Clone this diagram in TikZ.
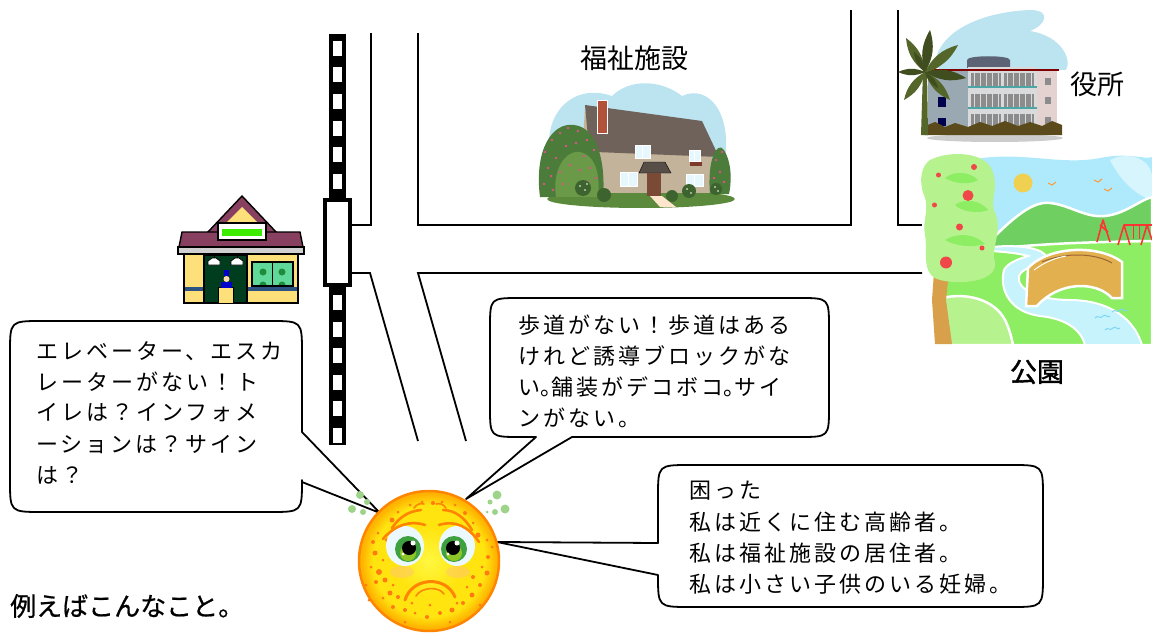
\documentclass[tikz,border=0pt]{standalone}
\usepackage{fontspec}
\newfontfamily\jp{Noto Sans CJK JP}
\newfontfamily\jpsp[LetterSpace=13.6]{Noto Sans CJK JP}
\newfontfamily\jphalf[LetterSpace=13.6,RawFeature=+halt]{Noto Sans CJK JP}
\newfontfamily\jpbold[FakeBold=1.5]{Noto Sans CJK JP}
\newfontfamily\jpmid[FakeBold=0.7]{Noto Sans CJK JP}

\definecolor{storeyellow}{HTML}{FDE07A}
\definecolor{roofmaroon}{HTML}{874060}
\definecolor{doorgreen}{HTML}{003C1E}
\definecolor{wingreen}{HTML}{5FD89A}
\definecolor{windot}{HTML}{1E8C3C}
\definecolor{stripeblue}{HTML}{2C5282}
\definecolor{signgreen}{HTML}{3CEB00}
\definecolor{skyblue}{HTML}{BCE4F0}
\definecolor{thatch}{HTML}{6E625A}
\definecolor{stonewall}{HTML}{C4B39B}
\definecolor{brick}{HTML}{B2523A}
\definecolor{doorbrown}{HTML}{7B4A36}
\definecolor{shrub}{HTML}{4C7C3A}
\definecolor{shrublight}{HTML}{6A9A48}
\definecolor{flowerpink}{HTML}{E0508A}
\definecolor{lawn}{HTML}{5C8A3C}
\definecolor{wingblue}{HTML}{9AA8B2}
\definecolor{facade}{HTML}{D8DADC}
\definecolor{wingpink}{HTML}{E3D2D0}
\definecolor{tank}{HTML}{5C6374}
\definecolor{hedge}{HTML}{5A4A1C}
\definecolor{palm}{HTML}{55662A}
\definecolor{palmdark}{HTML}{3F4D1F}
\definecolor{parksky}{HTML}{AEEAFC}
\definecolor{hillgreen}{HTML}{6FCF60}
\definecolor{grassgreen}{HTML}{8DED63}
\definecolor{paleleaf}{HTML}{B6F28E}
\definecolor{riverblue}{HTML}{C6F3FC}
\definecolor{bridgetan}{HTML}{E2B04E}
\definecolor{trunkbrown}{HTML}{D8A04A}
\definecolor{appleRed}{HTML}{F04848}
\definecolor{sunyellow}{HTML}{F0D050}
\definecolor{faceedge}{HTML}{FF8400}
\definecolor{freckle}{HTML}{FF7A10}
\definecolor{irisgreen}{HTML}{3FA040}
\definecolor{sweat}{HTML}{9ED48A}
\definecolor{facecore}{HTML}{FFF740}
\definecolor{facemid}{HTML}{FFE410}
\definecolor{facerim}{HTML}{FFB300}

\pgfdeclareradialshading{worriedface}{\pgfpoint{0bp}{0bp}}{%
  color(0bp)=(facecore); color(12bp)=(facemid); color(20bp)=(facemid);
  color(24bp)=(facerim); color(25bp)=(facerim); color(50bp)=(facerim)}

\tikzset{
  road/.style={line width=1.8pt, line join=miter},
  bubble/.style={draw=black, line width=1.8pt, fill=white, line join=round},
  bubbletext/.style={anchor=west, inner sep=0pt, font=\jpsp\fontsize{22}{26}\selectfont},
  placename/.style={inner sep=0pt, font=\jp\fontsize{27}{30}\selectfont},
  outline/.style={draw=black, line width=1.4pt},
}

\begin{document}
\begin{tikzpicture}[x=1pt,y=-1pt]
\useasboundingbox (0,0) rectangle (1152,634);

% ---------- streets ----------
\draw[road] (349,225) -- (371,225) -- (371,33);
\draw[road] (418,33) -- (418,225) -- (851,225) -- (851,10);
\draw[road] (898,10) -- (898,225) -- (922,225);
\draw[road] (349,273) -- (370,273) -- (418,441);
\draw[road] (466,441) -- (418,273) -- (922,273);

% ---------- railway with station ----------
\fill (329,34) rectangle (346,445);
\foreach \y in {41,67.5,94,120.5,147,173.5,295,321.5,348,374.5,401,427.5}
  \fill[white] (333,\y) rectangle (342,\y+15);
\draw[line width=4pt, fill=white] (324.7,199.7) rectangle (349.7,284.7);

% ---------- convenience store ----------
\filldraw[fill=roofmaroon, outline] (242,196) -- (207,233) -- (277,233) -- cycle;
\fill[storeyellow] (242,207) -- (217,232) -- (267,232) -- cycle;
\filldraw[fill=roofmaroon, outline] (182,232) -- (300,232) -- (303,247) -- (179,247) -- cycle;
\filldraw[fill=black!18, outline] (178,247) rectangle (304,254);
\filldraw[fill=storeyellow, outline] (184,254) rectangle (298,303);
\fill[stripeblue] (185,287) rectangle (297,291);
\filldraw[fill=doorgreen, outline] (204,255) rectangle (247,303);
\filldraw[fill=storeyellow, draw=black, line width=0.8pt] (218,287) rectangle (233,303);
\fill[blue!80!black] (224,270) rectangle (229,276);
\fill[blue!80!black] (221,282) rectangle (232,288);
\fill[orange!30] (226.5,279) circle (3);
\foreach \x in {214,237}{
  \draw[line width=0.8pt] (\x,254) -- (\x,258);
  \filldraw[fill=white, line width=0.8pt] (\x-6,265) -- (\x-6,261) -- (\x-2,258) -- (\x+2,258) -- (\x+6,261) -- (\x+6,265) -- cycle;
}
\begin{scope}
  \clip (252,262) rectangle (293,286);
  \fill[wingreen] (252,262) rectangle (293,286);
  \foreach \x/\y in {263/272,282/272,263/285,282/285}
    \fill[windot] (\x,\y) circle (3.5);
\end{scope}
\draw[outline] (252,262) rectangle (293,286);
\draw[outline] (272.5,262) -- (272.5,286);
\filldraw[fill=white, outline] (218,223) rectangle (266,240);
\fill[signgreen] (222,229) rectangle (262,236);

% ---------- welfare facility (cottage) ----------
\fill[skyblue] (552,168) .. controls (538,115) and (572,82) .. (612,96)
  .. controls (630,78) and (662,80) .. (682,96)
  .. controls (708,84) and (734,112) .. (724,168) -- cycle;
\fill[lawn] (641,199) ellipse (94 and 9);
\fill[stonewall] (592,146) rectangle (712,193);
\fill[stonewall] (585,108) -- (594,152) -- (582,156) -- cycle;
\fill[thatch] (585,105) -- (702,121) -- (719,157) -- (596,152) -- (588,138) -- cycle;
\filldraw[fill=brick, draw=white, line width=1pt] (597,101) rectangle (607,133);
\filldraw[fill=thatch!80!black] (639,173) -- (644,162) -- (665,162) -- (671,173) -- cycle;
\fill[doorbrown] (647,173) rectangle (661,196);
\foreach \a/\b/\c/\d in {635/145/650/158, 689/150/700/161, 620/172/637/186, 686/174/703/186}{
  \filldraw[fill=cyan!10, draw=white, line width=1pt] (\a,\b) rectangle (\c,\d);
  \draw[white, line width=0.6pt] ({(\a+\c)/2},\b) -- ({(\a+\c)/2},\d);
}
\fill[brick!70!black] (690,162) rectangle (702,166);
\fill[shrub] (540,197) .. controls (534,150) and (552,122) .. (574,125)
  .. controls (596,127) and (606,160) .. (603,197) -- cycle;
\fill[shrublight] (556,197) .. controls (552,170) and (565,150) .. (580,152)
  .. controls (598,156) and (600,180) .. (598,197) -- cycle;
\fill[shrub] (710,194) .. controls (707,160) and (717,140) .. (724,150)
  .. controls (733,165) and (731,185) .. (729,194) -- cycle;
\foreach \x/\y in {545/152,552/140,560/133,568/128,578/131,587/140,594/150,548/168,556/158,
  566/146,576/143,584/156,590/168,596/178,544/184,551/176,560/172,570/165,580/170,
  588/182,553/190,563/184,716/160,720/172,724/182,714/178,722/152}
  \fill[flowerpink] (\x,\y) circle (1.3);
\foreach \x/\y/\r in {583/188/8,689/191/7,716/189/6,604/195/7,672/196/6}
  \fill[shrub!80!black] (\x,\y) circle (\r);
\foreach \x/\y in {580/186,585/190,587/184,687/189,691/193,715/187,718/191}
  \fill[white] (\x,\y) circle (0.9);
\fill[orange!20!white] (650,196) -- (662,196) -- (676,207) -- (660,207) -- cycle;

% ---------- city office ----------
\fill[skyblue] (935,64) .. controls (938,32) and (980,12) .. (1030,10)
  .. controls (1052,10) and (1046,25) .. (1030,31)
  .. controls (1062,36) and (1072,60) .. (1066,70) -- (940,70) -- cycle;
\fill[black!20] (995,138) ellipse (68 and 4);
\fill[wingblue] (928,70) rectangle (968,130);
\fill[tank] (967,68) -- (967,60) .. controls (967,55) and (1010,55) .. (1010,60) -- (1010,68) -- cycle;
\fill[facade] (968,67) rectangle (1037,130);
\fill[wingpink] (1037,70) rectangle (1057,130);
\draw[red!50!black, line width=1.5pt] (926,70) -- (1059,70);
\foreach \yy in {73,94,114}{
  \fill[black!45] (971,\yy) rectangle (1001,\yy+13);
  \fill[black!45] (1004,\yy) rectangle (1034,\yy+13);
  \foreach \xx in {974,980,986,992,998,1007,1013,1019,1025,1031}
    \draw[facade, line width=0.8pt] (\xx,\yy) -- (\xx,\yy+13);
}
\draw[teal!70, line width=1.2pt] (968,87) -- (1037,87);
\draw[teal!70, line width=1.2pt] (968,108) -- (1037,108);
\fill[blue!30!black] (938,97) rectangle (946,107);
\fill[blue!30!black] (938,118) rectangle (946,126);
\foreach \yy in {78,97,117}
  \fill[black!45] (1045,\yy) rectangle (1051,\yy+7);
\fill[hedge] (925,135) -- (925,126) -- (935,122) -- (945,127) -- (955,123) -- (968,127)
  -- (980,122) -- (992,126) -- (1005,121) -- (1018,126) -- (1030,122) -- (1042,126)
  -- (1052,121) -- (1062,125) -- (1062,135) -- cycle;
\fill[palm] (921,135) -- (923,70) -- (927,70) -- (928,135) -- cycle;
\foreach \tx/\ty/\c in {906/38/palm, 930/30/palmdark, 958/45/palm, 966/78/palmdark,
  898/72/palmdark, 904/100/palm, 950/100/palm, 914/52/palmdark, 945/60/palm, 938/88/palmdark}
  \fill[\c] (925,72) to[bend left=24] (\tx,\ty) to[bend left=24] (925,72);

% ---------- park ----------
\fill[parksky] (970,160) .. controls (1020,150) and (1060,166) .. (1100,158)
  .. controls (1130,152) and (1145,160) .. (1152,157) -- (1152,245) -- (970,245) -- cycle;
\fill[white!50!parksky] (1110,160) .. controls (1130,150) and (1150,160) .. (1152,175)
  -- (1152,200) .. controls (1135,195) and (1120,180) .. (1110,160) -- cycle;
\filldraw[fill=hillgreen, draw=white, line width=2.5pt] (984,247) .. controls (1005,226) and (1030,200) .. (1050,203)
  .. controls (1070,205) and (1085,218) .. (1105,216)
  .. controls (1125,214) and (1140,200) .. (1152,197) -- (1152,252) -- (984,252) -- cycle;
\filldraw[fill=grassgreen, draw=white, line width=2.5pt] (935,252) -- (985,250) .. controls (1040,243) and (1100,242) .. (1152,241)
  -- (1152,345) -- (935,345) -- cycle;
\filldraw[fill=riverblue, draw=white, line width=2pt] (992,247) .. controls (1020,244) and (1045,249) .. (1046,257)
  .. controls (1046,265) and (1022,266) .. (1019,276)
  .. controls (1016,290) and (1040,300) .. (1070,300)
  .. controls (1100,300) and (1132,312) .. (1142,345) -- (1085,345)
  .. controls (1080,326) and (1060,318) .. (1040,316)
  .. controls (1010,312) and (999,290) .. (1004,270)
  .. controls (1008,262) and (1022,258) .. (1028,256)
  .. controls (1018,253) and (1004,252) .. (992,251) -- cycle;
\foreach \x/\y in {1095/318,1112/312,1105/330}
  \draw[cyan!50, line width=1pt] (\x,\y) .. controls (\x+3,\y-4) and (\x+5,\y+2) .. (\x+8,\y-2)
    .. controls (\x+11,\y-5) and (\x+12,\y+1) .. (\x+15,\y-2);
\filldraw[fill=paleleaf, draw=white, line width=2.5pt] (935,300) .. controls (965,290) and (995,300) .. (1005,320)
  .. controls (1010,330) and (1012,340) .. (1013,345) -- (935,345) -- cycle;
\filldraw[fill=bridgetan, draw=white, line width=2.5pt] (1026,306) -- (1028,268)
  .. controls (1050,245) and (1100,245) .. (1122,262) -- (1122,298) -- (1112,298)
  .. controls (1095,280) and (1058,282) .. (1037,306) -- cycle;
\draw[brown!80!black, line width=1pt] (1042,262) .. controls (1065,252) and (1095,253) .. (1112,263);
\draw[white, line width=1pt] (1034,270) .. controls (1045,262) and (1055,258) .. (1066,256);
\begin{scope}[red!80, line width=1.6pt, line join=round]
  \draw (1097,242) -- (1103,220) -- (1110,242);
  \draw (1100,225) -- (1108,232);
  \draw (1118,245) -- (1124,225) -- (1130,245);
  \draw (1141,245) -- (1147,225) -- (1152,240);
  \draw (1124,225) -- (1152,225);
  \draw[line width=0.8pt] (1133,225) -- (1133,239) (1139,225) -- (1139,239);
\end{scope}
\fill[sunyellow] (1023,183) circle (9.5);
\foreach \x/\y in {1052/183,1098/180,1108/189}
  \draw[orange!80, line width=1pt] (\x-4,\y) -- (\x,\y+2) -- (\x+4,\y-1);
\fill[trunkbrown] (934,272) -- (949,272) -- (946,300) -- (952,344) -- (935,344) -- (932,300) -- cycle;
\fill[paleleaf] (930,160) .. controls (950,150) and (985,152) .. (992,170)
  .. controls (1000,190) and (988,200) .. (996,215)
  .. controls (1002,235) and (990,250) .. (995,262)
  .. controls (998,282) and (960,285) .. (940,280)
  .. controls (920,275) and (928,250) .. (925,235)
  .. controls (922,220) and (930,210) .. (924,195)
  .. controls (918,180) and (922,165) .. (930,160) -- cycle;
\fill[grassgreen] (945,178) .. controls (955,170) and (970,172) .. (978,180)
  .. controls (970,185) and (955,184) .. (945,178) -- cycle;
\fill[grassgreen] (955,205) .. controls (965,198) and (980,200) .. (988,210)
  .. controls (978,214) and (962,212) .. (955,205) -- cycle;
\fill[grassgreen] (945,240) .. controls (958,232) and (975,234) .. (985,244)
  .. controls (972,248) and (955,246) .. (945,240) -- cycle;
\foreach \x/\y/\r in {938.5/175/2.5,974/167/3,968/195.5/5.5,934.5/205/2.5,959.5/227/3.5,946/262.5/6,982/248/2.5}
  \fill[appleRed] (\x,\y) circle (\r);

% ---------- speech bubbles ----------
\draw[bubble] (380,513) -- (302,482) -- (302,480) .. controls (302,512) .. (270,512)
  -- (42,512) .. controls (10,512) .. (10,480) -- (10,353) .. controls (10,321) .. (42,321)
  -- (270,321) .. controls (302,321) .. (302,353) -- (302,432) -- cycle;
\draw[bubble] (572,437) -- (466,499) -- (536,437) -- (520,437) .. controls (490,437) .. (490,407)
  -- (490,328) .. controls (490,298) .. (520,298) -- (799,298) .. controls (829,298) .. (829,328)
  -- (829,407) .. controls (829,437) .. (799,437) -- cycle;
\draw[bubble] (658,543) -- (497,542) -- (658,575) .. controls (658,607) .. (690,607)
  -- (1011,607) .. controls (1043,607) .. (1043,575) -- (1043,497) .. controls (1043,465) .. (1011,465)
  -- (690,465) .. controls (658,465) .. (658,497) -- cycle;

% ---------- worried face ----------
\shade[shading=worriedface] (429,561) circle (70);
\draw[faceedge, line width=2.5pt] (429,561) circle (70);
\foreach \x/\y/\r in {392/520/2.5,398/512/1.5,410/505/1.5,422/502/1.5,433/503/2,442/502/1.5,
  455/505/1.5,465/513/2,473/523/1.5,478/535/2.5,487/540/1.5,378/533/1.5,387/540/2,373/542/2,
  375/553/2.5,383/560/1.5,371/567/1.5,379/572/3,376/582/2,385/580/2.5,393/585/1.5,390/593/2.5,
  383/598/1.5,398/597/2,393/607/2,405/610/2,415/613/1.5,427/617/2,440/613/2,452/610/2.5,
  463/603/2,472/595/2.5,480/585/2,487/573/2.5,482/567/1.5,488/557/2,492/547/1.5,473/577/2,
  467/587/1.5,412/603/1.5,457/603/1.5,430/605/1.5,366/585/1.5,369/600/1.5,480/605/1.5,
  405/622/1.5,450/622/1.5}
  \fill[freckle] (\x,\y) circle (\r);
\fill[orange!50, opacity=0.45] (402,572) ellipse (12 and 6);
\fill[orange!50, opacity=0.45] (458,572) ellipse (12 and 6);
% eyes
\begin{scope}
  \clip (380,538) .. controls (395,525) and (410,520) .. (426,525) -- (430,575) -- (378,575) -- cycle;
  \fill[cyan!8] (405,546) ellipse (19 and 20);
  \fill[irisgreen] (408,549) circle (13);
  \fill[irisgreen!60!yellow] (408,553) circle (8);
  \fill[black] (409,548) circle (7);
  \fill[white] (413,543) circle (2.5);
  \fill[white] (403,554) circle (1.5);
\end{scope}
\begin{scope}
  \clip (438,525) .. controls (455,520) and (468,526) .. (480,541) -- (480,575) -- (434,575) -- cycle;
  \fill[cyan!8] (457,546) ellipse (18 and 20);
  \fill[irisgreen] (454,549) circle (13);
  \fill[irisgreen!60!yellow] (454,553) circle (8);
  \fill[black] (453,548) circle (7);
  \fill[white] (457,543) circle (2.5);
  \fill[white] (448,554) circle (1.5);
\end{scope}
\begin{scope}[faceedge, line width=2.6pt, line cap=round]
  \draw (383,539) .. controls (395,525) and (410,520) .. (425,525);
  \draw (439,525) .. controls (455,520) and (468,526) .. (479,542);
  \draw (392,528) .. controls (400,516) and (410,511) .. (421,510);
  \draw (443,510) .. controls (455,510) and (465,518) .. (472,530);
  \draw[line width=1.6pt] (414,508) .. controls (417,504) and (420,503) .. (424,504);
  \draw[line width=1.6pt] (436,504) .. controls (440,503) and (443,504) .. (446,508);
  \draw[line width=3pt] (405,600) .. controls (412,577) and (446,575) .. (455,597);
  \draw[line width=1.6pt] (416,596) .. controls (421,587) and (439,586) .. (444,594);
\end{scope}
\foreach \x/\y/\r in {360/495/4,367/502/3,352/509/4,363/512/3,497/495/4.5,490/502/2.5,495/512/3,505/509/4.5,487/512/1.5}
  \fill[sweat] (\x,\y) circle (\r);

% ---------- labels ----------
\node[placename] (welfare) at (634,58) {福祉施設};
\node[placename] (office) at (1097,84) {役所};
\node[placename, font=\jpbold\fontsize{27}{30}\selectfont] (park) at (1037,372) {公園};
\node[anchor=west, inner sep=0pt, font=\jpmid\fontsize{26}{30}\selectfont] (example) at (10,606) {例えばこんなこと。};

\node[bubbletext] (stationA) at (36,351) {エレベーター、エスカ};
\node[bubbletext] (stationB) at (36,382) {レーターがない！ト};
\node[bubbletext] (stationC) at (36,413) {イレは？インフォメ};
\node[bubbletext] (stationD) at (36,444) {ーションは？サイン};
\node[bubbletext] (stationE) at (36,475) {は？};

\node[bubbletext] (streetA) at (518,325) {歩道がない！歩道はある};
\node[bubbletext] (streetB) at (518,356) {けれど誘導ブロックがな};
\node[bubbletext] (streetC) at (518,387) {い{\jphalf\fontsize{22}{26}\selectfont 。}舗装がデコボコ{\jphalf\fontsize{22}{26}\selectfont 。}サイ};
\node[bubbletext] (streetD) at (518,418) {ンがない。};

\node[bubbletext] (selfA) at (689,491) {困った};
\node[bubbletext] (selfB) at (689,522) {私は近くに住む高齢者。};
\node[bubbletext] (selfC) at (689,553) {私は福祉施設の居住者。};
\node[bubbletext] (selfD) at (689,584) {私は小さい子供のいる妊婦。};
\end{tikzpicture}
\end{document}
